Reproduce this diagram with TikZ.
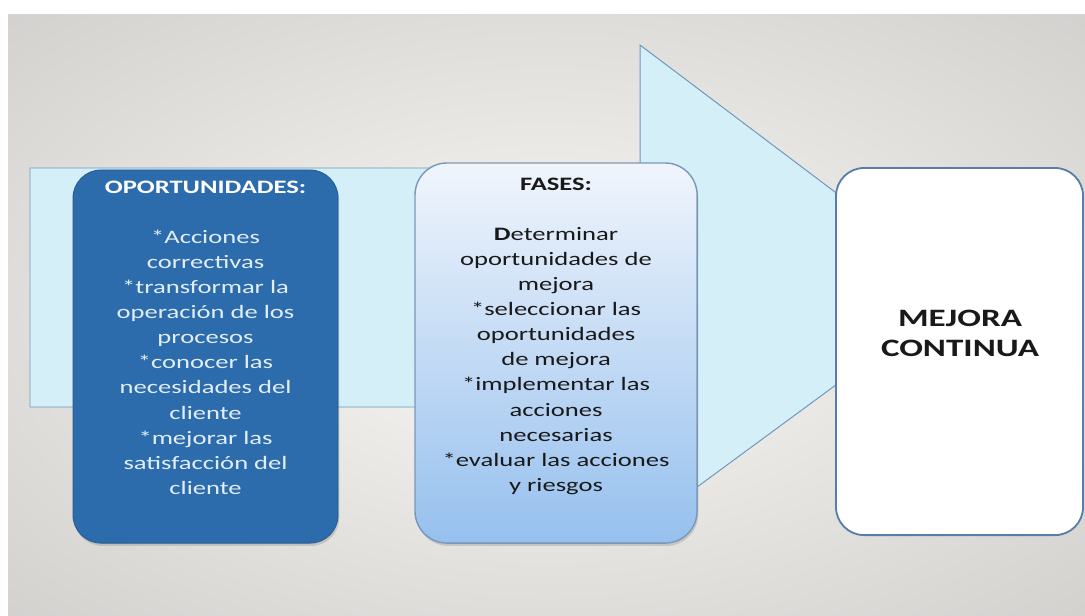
\documentclass[tikz,border=0pt]{standalone}
\usepackage{fontspec}
\setmainfont{Carlito}[FakeStretch=1.4]
\usetikzlibrary{positioning,shadows}
\definecolor{bginner}{RGB}{238,237,234}
\definecolor{bgouter}{RGB}{184,183,181}
\definecolor{flecha}{RGB}{212,239,248}
\definecolor{flechaborde}{RGB}{110,152,185}
\definecolor{oscuro}{RGB}{44,107,172}
\definecolor{claro}{RGB}{226,238,247}
\definecolor{fasesarriba}{RGB}{240,245,252}
\definecolor{fasesabajo}{RGB}{150,192,238}
\definecolor{borde}{RGB}{88,126,168}
\definecolor{tinta}{RGB}{25,25,25}
\newcommand{\textofuente}{\fontsize{13.5pt}{17.8pt}\selectfont}
\newcommand{\titulofuente}{\fontsize{17.8pt}{21.3pt}\selectfont\bfseries}
\pgfdeclareradialshading{fondo}{\pgfpoint{0bp}{0bp}}{color(0bp)=(bginner); color(10bp)=(bginner); color(60bp)=(bgouter); color(72bp)=(bgouter)}

\begin{document}
\begin{tikzpicture}[x=0.025cm, y=-0.025cm,
	caja/.style={rectangle, anchor=north west, inner sep=0pt, outer sep=0pt},
	sombra/.style={drop shadow={opacity=0.3, shadow xshift=0.03cm, shadow yshift=-0.07cm}},
	texto/.style={align=center, inner sep=0pt, font=\textofuente}]
	\useasboundingbox (0,0) rectangle (1085,616);
	\fill[white] (0,0) rectangle (1085,616);
	\shade[shading=fondo] (8,15) rectangle (1085,616);

	% flecha de fondo
	\coordinate (c1) at (30,168);
	\coordinate (c2) at (640,168);
	\coordinate (c3) at (640,45);
	\coordinate (punta) at (965,290);
	\coordinate (c5) at (640,529);
	\coordinate (c6) at (640,407);
	\coordinate (c7) at (30,407);
	\draw[flechaborde, fill=flecha, line width=0.7pt] (c1) -- (c2) -- (c3) -- (punta) -- (c5) -- (c6) -- (c7) -- cycle;

	\node[caja, sombra, fill=oscuro, draw=oscuro!85!black, line width=0.6pt, rounded corners=0.7cm, minimum width=6.625cm, minimum height=9.325cm] (op) at (73,170) {};
	\node[caja, sombra, top color=fasesarriba, bottom color=fasesabajo, draw=borde!80, line width=1pt, rounded corners=0.8cm, minimum width=7.05cm, minimum height=9.5cm] (fa) at (415,163) {};
	\node[caja, fill=white, draw=borde, line width=1.3pt, rounded corners=0.7cm, minimum width=6.175cm, minimum height=9.175cm] (mc) at (836,168) {};

	\node[texto, text=claro, below=0.275cm of op.north] (optexto) {\textbf{\color{white}OPORTUNIDADES:}\\[17.8pt]
		*Acciones\\ correctivas\\ *transformar la\\ operación de los\\ procesos\\ *conocer las\\ necesidades del\\ cliente\\ *mejorar las\\ satisfacción del\\ cliente};
	\node[texto, text=tinta, below=0.375cm of fa.north] (fatexto) {\textbf{FASES:}\\[17.8pt]
		\textbf{D}eterminar\\ oportunidades de\\ mejora\\ *seleccionar las\\ oportunidades\\ de mejora\\ *implementar las\\ acciones\\ necesarias\\ *evaluar las acciones\\ y riesgos};
	\node[align=center, inner sep=0pt, text=tinta, font=\titulofuente] (mctexto) at (960,333) {MEJORA\\ CONTINUA};
\end{tikzpicture}
\end{document}
